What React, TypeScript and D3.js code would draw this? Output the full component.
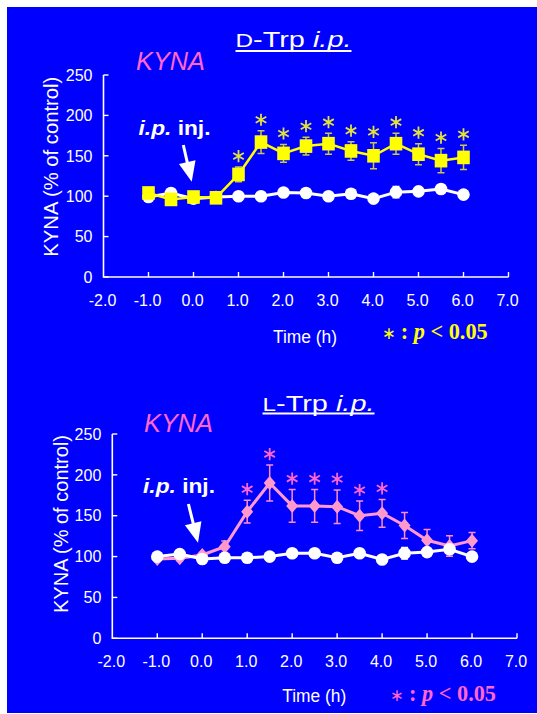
import React, { useEffect, useRef } from 'react';
import * as d3 from 'd3';

const times = [-1, -0.5, 0, 0.5, 1, 1.5, 2, 2.5, 3, 3.5, 4, 4.5, 5, 5.5, 6];
const xTicks = [-2, -1, 0, 1, 2, 3, 4, 5, 6, 7];
const yTicks = [0, 50, 100, 150, 200, 250];

// D-Trp panel
const dTrpMean = [104, 96, 99, 98, 127, 167, 153, 162, 165, 156, 150, 165, 152, 144, 148];
const dTrpSem = [3, 2, 2, 2, 9, 14, 11, 11, 13, 11.5, 16, 13, 13, 15, 15];
const dCtrlMean = [99, 104, 97, 99, 100, 100, 104.5, 104, 100, 103, 97, 105, 106, 109, 102];
const dCtrlSem = [3, 3, 3, 3, 5, 3, 3, 5, 3, 3, 3, 7, 4, 3, 3];
const dSig = [1, 1.5, 2, 2.5, 3, 3.5, 4, 4.5, 5, 5.5, 6];

// L-Trp panel
const lTrpMean = [97, 98, 102, 112, 155, 190, 162, 162, 161, 150, 153, 138, 120, 113, 119.5];
const lTrpSem = [3, 3, 3, 7, 14, 22, 20, 20, 20.5, 18, 17, 16, 13, 12.5, 10];
const lCtrlMean = [100, 103, 97, 98.5, 98.5, 100, 104, 104, 98.5, 104, 96.5, 104, 105.5, 109, 100];
const lCtrlSem = [3, 3, 3, 3, 3, 3, 3, 3, 3, 3, 3, 7, 4, 3, 3];
const lSig = [1, 1.5, 2, 2.5, 3, 3.5, 4];

const SANS = '"Liberation Sans", Arial, sans-serif';
const SERIF = '"Liberation Serif", "Times New Roman", serif';

function drawPanel(svg, o) {
  const g = svg.append('g');
  const x = d3.scaleLinear().domain([-2, 7]).range([o.x0, o.x1]);
  const y = d3.scaleLinear().domain([0, 250]).range([o.y0, o.y1]);

  // axes
  g.append('path')
    .attr('d', `M${o.x0},${o.y1}V${o.y0}H${o.x1}`)
    .attr('fill', 'none').attr('stroke', '#fff').attr('stroke-width', 1.6);
  yTicks.forEach(t => {
    g.append('line').attr('x1', o.x0).attr('x2', o.x0 + 5).attr('y1', y(t)).attr('y2', y(t))
      .attr('stroke', '#fff').attr('stroke-width', 1.4);
    g.append('text').attr('x', o.x0 - 11).attr('y', y(t)).attr('dy', '0.36em')
      .attr('text-anchor', 'end').attr('font-family', SANS).attr('font-size', 16)
      .attr('fill', '#fff').text(t);
  });
  xTicks.forEach(t => {
    if (t > -2) {
      g.append('line').attr('x1', x(t)).attr('x2', x(t)).attr('y1', o.y0).attr('y2', o.y0 - 5)
        .attr('stroke', '#fff').attr('stroke-width', 1.4);
    }
    g.append('text').attr('x', x(t) - 1).attr('y', o.y0 + 29)
      .attr('text-anchor', 'middle').attr('font-family', SANS).attr('font-size', 16)
      .attr('fill', '#fff').text(t.toFixed(1));
  });

  // y label
  g.append('text')
    .attr('transform', `translate(${o.ylx},${o.yly}) rotate(-90)`)
    .attr('dy', '0.36em').attr('text-anchor', 'middle')
    .attr('font-family', SANS).attr('font-size', 19.5).attr('fill', '#fff')
    .attr('textLength', o.ylLen).attr('lengthAdjust', 'spacingAndGlyphs')
    .text('KYNA (% of control)');

  // title
  const title = g.append('text').attr('x', o.tx).attr('y', o.ty)
    .attr('font-family', SANS).attr('font-size', 22).attr('fill', '#fff')
    .attr('textLength', o.tLen).attr('lengthAdjust', 'spacingAndGlyphs');
  title.append('tspan').attr('font-size', 18.5).text(o.prefix);
  title.append('tspan').text('-Trp ');
  title.append('tspan').attr('font-style', 'italic').text('i.p.');
  g.append('line').attr('x1', o.tx).attr('x2', o.tx + o.tLen).attr('y1', o.uy).attr('y2', o.uy)
    .attr('stroke', '#fff').attr('stroke-width', 1.8);

  // KYNA
  g.append('text').attr('x', o.kx).attr('y', o.ky)
    .attr('font-family', SANS).attr('font-size', 25.5).attr('font-style', 'italic')
    .attr('fill', '#ff66cc').attr('textLength', 69).attr('lengthAdjust', 'spacingAndGlyphs')
    .text('KYNA');

  // i.p. inj.
  const inj = g.append('text').attr('x', o.ix).attr('y', o.iy)
    .attr('font-family', SANS).attr('font-size', 20).attr('font-weight', 'bold')
    .attr('fill', '#fff').attr('textLength', 72).attr('lengthAdjust', 'spacingAndGlyphs');
  inj.append('tspan').attr('font-style', 'italic').text('i.p.');
  inj.append('tspan').text(' inj.');

  // arrow
  const [ax0, ay0, ax1, ay1] = o.arrow;
  const len = Math.hypot(ax1 - ax0, ay1 - ay0);
  const ux = (ax1 - ax0) / len, uy = (ay1 - ay0) / len;
  const hl = 20, hw = 8.5;
  const bx = ax1 - ux * hl, by = ay1 - uy * hl;
  g.append('line').attr('x1', ax0).attr('y1', ay0).attr('x2', bx + ux * 2).attr('y2', by + uy * 2)
    .attr('stroke', '#fff').attr('stroke-width', 3);
  g.append('path')
    .attr('d', `M${ax1},${ay1}L${bx - uy * hw},${by + ux * hw}L${bx + uy * hw},${by - ux * hw}Z`)
    .attr('fill', '#fff');

  // Time (h)
  g.append('text').attr('x', o.timeX).attr('y', o.timeY).attr('text-anchor', 'middle')
    .attr('font-family', SANS).attr('font-size', 18).attr('fill', '#fff')
    .attr('textLength', 64).attr('lengthAdjust', 'spacingAndGlyphs')
    .text('Time (h)');

  // p legend
  const leg = g.append('text').attr('x', o.lx).attr('y', o.ly)
    .attr('font-family', SERIF).attr('font-size', 23).attr('font-weight', 'bold')
    .attr('fill', o.legColor).attr('textLength', 106).attr('lengthAdjust', 'spacingAndGlyphs');
  leg.append('tspan').attr('font-family', SANS).attr('font-weight', 'normal').attr('font-size', 17).text('\u2217');
  leg.append('tspan').text(' : ');
  leg.append('tspan').attr('font-style', 'italic').text('p');
  leg.append('tspan').text(' < 0.05');

  const line = d3.line().x(d => x(d[0])).y(d => y(d[1]));

  const drawSeries = (mean, sem, color, barColor, lw, shape) => {
    const s = g.append('g');
    times.forEach((t, i) => {
      const cx = x(t), top = y(mean[i] + sem[i]), bot = y(mean[i] - sem[i]);
      s.append('path')
        .attr('d', `M${cx},${top}V${bot}M${cx - 3.5},${top}H${cx + 3.5}M${cx - 3.5},${bot}H${cx + 3.5}`)
        .attr('stroke', barColor).attr('stroke-width', 1.5).attr('fill', 'none');
    });
    s.append('path').datum(times.map((t, i) => [t, mean[i]])).attr('d', line)
      .attr('fill', 'none').attr('stroke', color).attr('stroke-width', lw);
    times.forEach((t, i) => {
      const cx = x(t), cy = y(mean[i]);
      if (shape === 'circle') {
        s.append('circle').attr('cx', cx).attr('cy', cy).attr('r', 6.3).attr('fill', color);
      } else if (shape === 'square') {
        s.append('rect').attr('x', cx - 6.3).attr('y', cy - 6.8).attr('width', 12.6).attr('height', 13.6).attr('fill', color);
      } else {
        s.append('path').attr('d', `M${cx},${cy - 7}L${cx + 6},${cy}L${cx},${cy + 7}L${cx - 6},${cy}Z`).attr('fill', color);
      }
    });
  };

  const star = d3.symbol(d3.symbolAsterisk, 105);
  const drawStars = (mean, sem, sig, color) => {
    sig.forEach(t => {
      const i = times.indexOf(t);
      g.append('path').attr('d', star())
        .attr('transform', `translate(${x(t)},${y(mean[i] + sem[i]) - 11})`)
        .attr('fill', 'none').attr('stroke', color).attr('stroke-width', 1.8);
    });
  };

  if (o.kind === 'D') {
    drawSeries(dCtrlMean, dCtrlSem, '#fff', '#fff', 3, 'circle');
    drawSeries(dTrpMean, dTrpSem, '#ffff00', '#c8c850', 2.5, 'square');
    drawStars(dTrpMean, dTrpSem, dSig, '#e2e23c');
  } else {
    drawSeries(lTrpMean, lTrpSem, '#ff99cc', '#ff8cc6', 3, 'diamond');
    drawSeries(lCtrlMean, lCtrlSem, '#fff', '#fff', 3, 'circle');
    drawStars(lTrpMean, lTrpSem, lSig, '#ff66cc');
  }
}

export default function App() {
  const ref = useRef(null);
  useEffect(() => {
    document.body.style.margin = '0';
    const svg = d3.select(ref.current);
    svg.selectAll('*').remove();
    svg.append('rect').attr('width', 537).attr('height', 714).attr('fill', '#fff');
    svg.append('rect').attr('x', 7).attr('y', 7).attr('width', 530).attr('height', 706).attr('fill', '#0000ff');

    drawPanel(svg, {
      kind: 'D', prefix: 'D',
      x0: 103.5, x1: 508.5, y0: 277, y1: 75,
      ylx: 50.5, yly: 166.7, ylLen: 180,
      tx: 235.5, ty: 46.7, tLen: 116, uy: 51,
      kx: 136, ky: 70,
      ix: 138.5, iy: 135,
      arrow: [183.3, 145, 191.7, 181.7],
      timeX: 305, timeY: 342.7,
      lx: 381.7, ly: 339, legColor: '#ffff00'
    });
    drawPanel(svg, {
      kind: 'L', prefix: 'L',
      x0: 112.3, x1: 517, y0: 638.3, y1: 434,
      ylx: 60.8, yly: 524, ylLen: 178,
      tx: 262.5, ty: 410.5, tLen: 112, uy: 413.5,
      kx: 144, ky: 431.7,
      ix: 143, iy: 493.3,
      arrow: [188.4, 504, 198, 542.7],
      timeX: 314.2, timeY: 701.7,
      lx: 390, ly: 700.7, legColor: '#ff66cc'
    });
  }, []);
  return <svg ref={ref} width={537} height={714} style={{ display: 'block' }} />;
}
